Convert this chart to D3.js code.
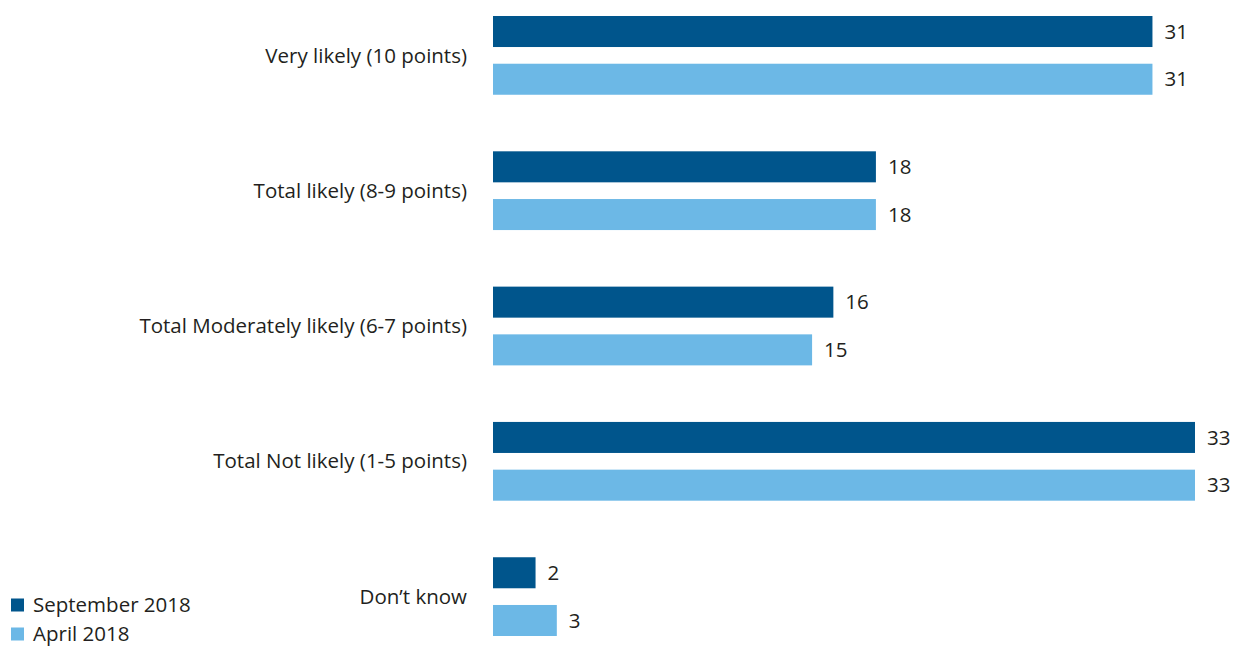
<!DOCTYPE html>
<html>
<head>
<meta charset="utf-8">
<script src="https://cdn.jsdelivr.net/npm/d3@7"></script>
<style>
  html, body { margin: 0; padding: 0; background: #fff; }
  svg { display: block; font-family: "Open Sans", "Noto Sans", sans-serif; }
</style>
</head>
<body>
<svg id="chart" width="1238" height="646"></svg>
<script>
const categories = [
  "Very likely (10 points)",
  "Total likely (8-9 points)",
  "Total Moderately likely (6-7 points)",
  "Total Not likely (1-5 points)",
  "Don\u2019t know"
];
const seriesNames = ["September 2018", "April 2018"];
const september2018 = [31, 18, 16, 33, 2];
const april2018 = [31, 18, 15, 33, 3];
const seriesValues = [september2018, april2018];
const colors = ["#00558C", "#6CB8E6"];

const svg = d3.select("#chart");
const textColor = "#231F20";
const fontSize = 20.5;

const x = d3.scaleLinear().domain([0, 33]).range([493, 1195]);
const y0 = d3.scaleBand().domain(categories).range([16, 636]).paddingInner(0.418).paddingOuter(0);
const y1 = d3.scaleBand().domain(seriesNames).range([0, y0.bandwidth()]).paddingInner(0.35).paddingOuter(0);

const rows = [];
categories.forEach((c, i) => {
  seriesNames.forEach((s, j) => {
    rows.push({ cat: c, series: s, value: seriesValues[j][i], color: colors[j] });
  });
});

svg.selectAll("rect.bar").data(rows).enter().append("rect")
  .attr("class", "bar")
  .attr("x", x(0))
  .attr("y", d => y0(d.cat) + y1(d.series))
  .attr("width", d => x(d.value) - x(0))
  .attr("height", y1.bandwidth())
  .attr("fill", d => d.color);

svg.selectAll("text.val").data(rows).enter().append("text")
  .attr("class", "val")
  .attr("x", d => x(d.value) + 12)
  .attr("y", d => y0(d.cat) + y1(d.series) + y1.bandwidth() / 2)
  .attr("dy", "0.35em")
  .attr("font-size", fontSize)
  .attr("fill", textColor)
  .text(d => d.value);

svg.selectAll("text.cat").data(categories).enter().append("text")
  .attr("class", "cat")
  .attr("x", 467)
  .attr("y", d => y0(d) + y0.bandwidth() / 2)
  .attr("dy", "0.35em")
  .attr("text-anchor", "end")
  .attr("font-size", fontSize)
  .attr("fill", textColor)
  .text(d => d);

const legend = svg.append("g");
seriesNames.forEach((s, j) => {
  const ly = 605 + j * 29;
  legend.append("rect").attr("x", 11).attr("y", ly - 6.5).attr("width", 13).attr("height", 13).attr("fill", colors[j]);
  legend.append("text").attr("x", 33).attr("y", ly).attr("dy", "0.35em")
    .attr("font-size", fontSize).attr("fill", textColor).text(s);
});
</script>
</body>
</html>
